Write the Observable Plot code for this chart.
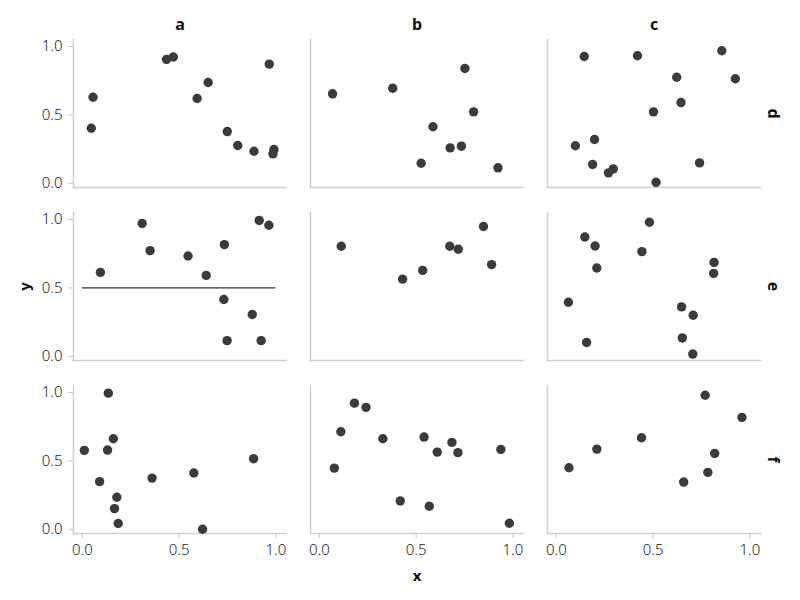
<!DOCTYPE html>
<html><head><meta charset="utf-8">
<script src="https://cdn.jsdelivr.net/npm/d3@7"></script>
<script src="https://cdn.jsdelivr.net/npm/@observablehq/plot@0.6"></script>
<style>
body{margin:0;background:#fff;}
#chart svg{font-family:"Noto Sans",sans-serif;}
g[aria-label="x-axis tick label"] text, g[aria-label="y-axis tick label"] text{font-weight:300;fill:#222;}
g[aria-label="x-axis label"] text, g[aria-label="y-axis label"] text{font-weight:bold;fill:#111;font-size:15px;}
g[aria-label="fx-axis tick label"] text, g[aria-label="fy-axis tick label"] text{font-weight:bold;fill:#111;font-size:16px;}
</style></head><body><div id="chart"></div>
<script>
const colCats = ["a", "b", "c"];
const rowCats = ["d", "e", "f"];
const tickValues = [0, 0.5, 1];

// panel (a, d)
const xAD = [0.055, 0.046, 0.435, 0.470, 0.593, 0.650, 0.966, 0.749, 0.803, 0.887, 0.990, 0.985];
const yAD = [0.629, 0.402, 0.906, 0.923, 0.620, 0.737, 0.871, 0.378, 0.276, 0.234, 0.247, 0.215];
// panel (b, d)
const xBD = [0.068, 0.379, 0.752, 0.797, 0.587, 0.676, 0.734, 0.526, 0.923];
const yBD = [0.654, 0.695, 0.839, 0.522, 0.413, 0.259, 0.271, 0.146, 0.113];
// panel (c, d)
const xCD = [0.144, 0.419, 0.855, 0.622, 0.925, 0.644, 0.502, 0.197, 0.098, 0.187, 0.294, 0.269, 0.740, 0.515];
const yCD = [0.927, 0.932, 0.969, 0.775, 0.764, 0.590, 0.522, 0.320, 0.274, 0.137, 0.105, 0.076, 0.149, 0.007];
// panel (a, e)
const xAE = [0.093, 0.309, 0.350, 0.546, 0.640, 0.734, 0.914, 0.964, 0.731, 0.878, 0.748, 0.924];
const yAE = [0.613, 0.971, 0.772, 0.733, 0.591, 0.816, 0.993, 0.958, 0.415, 0.305, 0.114, 0.114];
// panel (b, e)
const xBE = [0.113, 0.430, 0.534, 0.674, 0.718, 0.848, 0.890];
const yBE = [0.804, 0.564, 0.628, 0.804, 0.782, 0.949, 0.670];
// panel (c, e)
const xCE = [0.147, 0.200, 0.481, 0.442, 0.209, 0.815, 0.813, 0.062, 0.647, 0.707, 0.156, 0.651, 0.705];
const yCE = [0.872, 0.806, 0.980, 0.765, 0.645, 0.686, 0.606, 0.395, 0.361, 0.300, 0.101, 0.134, 0.016];
// panel (a, f)
const xAF = [0.134, 0.160, 0.010, 0.130, 0.885, 0.089, 0.360, 0.576, 0.178, 0.166, 0.185, 0.621];
const yAF = [0.995, 0.662, 0.577, 0.579, 0.516, 0.348, 0.374, 0.411, 0.234, 0.151, 0.042, 0.000];
// panel (b, f)
const xBF = [0.181, 0.241, 0.111, 0.328, 0.541, 0.685, 0.609, 0.716, 0.938, 0.077, 0.418, 0.568, 0.982];
const yBF = [0.922, 0.891, 0.713, 0.662, 0.674, 0.635, 0.564, 0.560, 0.584, 0.447, 0.207, 0.168, 0.044];
// panel (c, f)
const xCF = [0.769, 0.959, 0.440, 0.209, 0.818, 0.065, 0.783, 0.658];
const yCF = [0.980, 0.818, 0.669, 0.586, 0.555, 0.450, 0.416, 0.345];

// reference line
const ruleValue = 0.5;
const ruleCol = "a";
const ruleRow = "e";

const panels = [
  ["a", "d", xAD, yAD], ["b", "d", xBD, yBD], ["c", "d", xCD, yCD],
  ["a", "e", xAE, yAE], ["b", "e", xBE, yBE], ["c", "e", xCE, yCE],
  ["a", "f", xAF, yAF], ["b", "f", xBF, yBF], ["c", "f", xCF, yCF]
];
const points = panels.flatMap(([c, r, xs, ys]) => xs.map((x, i) => ({x, y: ys[i], col: c, row: r})));
const rules = [{y: ruleValue, col: ruleCol, row: ruleRow}];

const chart = Plot.plot({
  width: 800,
  height: 600,
  marginTop: 38,
  marginBottom: 67,
  marginLeft: 72,
  marginRight: 38,
  style: {fontSize: "15px", color: "#222", background: "#fff"},
  fx: {domain: colCats, padding: 0.1, axis: null},
  fy: {domain: rowCats, padding: 0.147, axis: null},
  x: {domain: [-0.046, 1.055], axis: null},
  y: {domain: [-0.031, 1.051], axis: null},
  marks: [
    Plot.frame({anchor: "left", stroke: "#d0d0d0", strokeWidth: 1.5}),
    Plot.frame({anchor: "bottom", stroke: "#d0d0d0", strokeWidth: 1.5}),
    Plot.axisY(tickValues, {anchor: "left", tickSize: 5, tickPadding: 6, stroke: "#c8c8c8", fill: "#222",
      tickFormat: ".1f", label: "y", labelAnchor: "center", labelArrow: "none", labelOffset: 54}),
    Plot.axisX(tickValues, {anchor: "bottom", tickSize: 5, tickPadding: 6, stroke: "#c8c8c8", fill: "#222",
      tickFormat: ".1f", label: "x", labelAnchor: "center", labelArrow: "none", labelOffset: 47}),
    Plot.axisFx({anchor: "top", tickPadding: 10, label: null, fontWeight: "bold", fontSize: 16}),
    Plot.axisFy({anchor: "right", tickPadding: 19, tickRotate: 90, label: null, fontWeight: "bold", fontSize: 16}),
    Plot.ruleY(rules, {y: "y", x1: 0, x2: 1, fx: "col", fy: "row", stroke: "#333", strokeWidth: 1.3}),
    Plot.dot(points, {x: "x", y: "y", fx: "col", fy: "row", r: 4.7, fill: "#3b3b3b", stroke: "none"})
  ]
});
document.getElementById("chart").append(chart);
</script>
</body></html>
